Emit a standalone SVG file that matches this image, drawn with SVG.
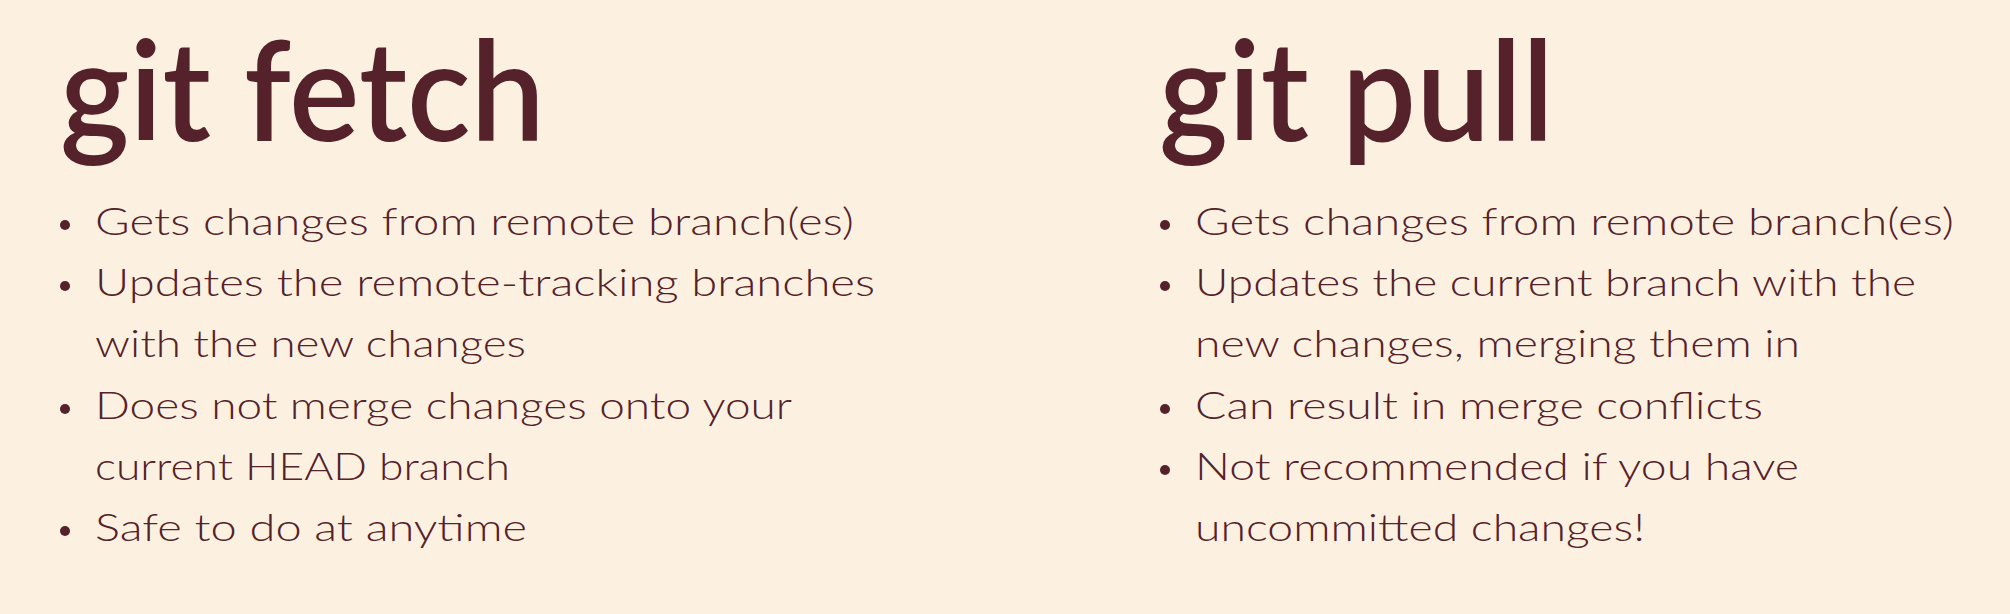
<svg xmlns="http://www.w3.org/2000/svg" width="2010" height="614" viewBox="0 0 2010 614">
  <style>
    .title { font-family: "Lato", "Liberation Sans", sans-serif; font-weight: 600; font-size: 138px; fill: #55212A; }
    .item { font-family: "Lato", "Liberation Sans", sans-serif; font-weight: 300; font-size: 38px; fill: #55212A; }
    .dot { fill: #55212A; }
  </style>
  <rect x="0" y="0" width="2010" height="614" fill="#FCF1E1"/>
  <g id="connectors"/>
  <g id="git-fetch">
    <text class="title" x="60" y="141" textLength="485" lengthAdjust="spacingAndGlyphs">git fetch</text>
    <circle class="dot" cx="65" cy="225" r="5"/>
    <text class="item" x="95" y="235" textLength="759" lengthAdjust="spacingAndGlyphs">Gets changes from remote branch(es)</text>
    <circle class="dot" cx="65" cy="286" r="5"/>
    <text class="item" x="95" y="296" textLength="780" lengthAdjust="spacingAndGlyphs">Updates the remote-tracking branches</text>
    <text class="item" x="95" y="357" textLength="431" lengthAdjust="spacingAndGlyphs">with the new changes</text>
    <circle class="dot" cx="65" cy="409" r="5"/>
    <text class="item" x="95" y="419" textLength="697" lengthAdjust="spacingAndGlyphs">Does not merge changes onto your</text>
    <text class="item" x="95" y="480" textLength="415" lengthAdjust="spacingAndGlyphs">current HEAD branch</text>
    <circle class="dot" cx="65" cy="531" r="5"/>
    <text class="item" x="95" y="541" textLength="432" lengthAdjust="spacingAndGlyphs">Safe to do at anytime</text>
  </g>
  <g id="git-pull">
    <text class="title" x="1159" y="141" textLength="395" lengthAdjust="spacingAndGlyphs">git pull</text>
    <circle class="dot" cx="1165" cy="225" r="5"/>
    <text class="item" x="1195" y="235" textLength="759" lengthAdjust="spacingAndGlyphs">Gets changes from remote branch(es)</text>
    <circle class="dot" cx="1165" cy="286" r="5"/>
    <text class="item" x="1195" y="296" textLength="721" lengthAdjust="spacingAndGlyphs">Updates the current branch with the</text>
    <text class="item" x="1195" y="357" textLength="605" lengthAdjust="spacingAndGlyphs">new changes, merging them in</text>
    <circle class="dot" cx="1165" cy="409" r="5"/>
    <text class="item" x="1195" y="419" textLength="568" lengthAdjust="spacingAndGlyphs">Can result in merge conflicts</text>
    <circle class="dot" cx="1165" cy="470" r="5"/>
    <text class="item" x="1195" y="480" textLength="604" lengthAdjust="spacingAndGlyphs">Not recommended if you have</text>
    <text class="item" x="1195" y="541" textLength="450" lengthAdjust="spacingAndGlyphs">uncommitted changes!</text>
  </g>
</svg>
